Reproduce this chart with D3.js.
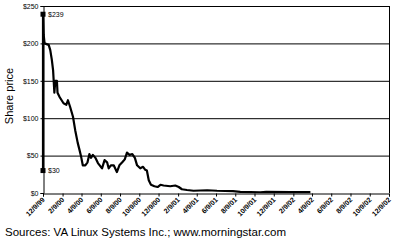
<!DOCTYPE html>
<html><head><meta charset="utf-8">
<script src="https://cdn.jsdelivr.net/npm/d3@7"></script>
<style>
body{margin:0;background:#fff;}
svg{display:block;font-family:"Liberation Sans",Arial,sans-serif;}
</style></head>
<body><svg id="c" width="393" height="242"></svg>
<script>
// Days after IPO (12/9/99) and closing share price ($)
const dayOffsets = [0,0,2,5,18,23,28,32,36,39,44,46,53,65,74,79,86,95,102,110,116,121,126,134,141,147,152,158,166,174,187,195,203,208,215,224,234,242,251,259,266,274,283,291,298,308,317,324,329,335,342,353,363,372,382,403,419,430,440,456,477,520,551,602,625,688,707,783,847];
const prices = [30,239,212,200,198,191,178,164,134,150,150,134,128,120,118,124,115,102,84,67,57,48,37,37,41,52,47,51,47,40,33,44,41,33,37,37,28,37,41,45,54,51,52,47,37,33,35,31,30,17,11,9,8,11,10,9,10,8,5,4,3,3.7,3,2.5,1.5,1,1.5,1.2,1.2];
const markerValues = [239, 30];
const markerLabels = ["$239", "$30"];
const yTicks = [0,50,100,150,200,250];
const xTickLabels = ["12/9/99","2/9/00","4/9/00","6/9/00","8/9/00","10/9/00","12/9/00","2/9/01","4/9/01","6/9/01","8/9/01","10/9/01","12/9/01","2/9/02","4/9/02","6/9/02","8/9/02","10/9/02","12/9/02"];
const yTitle = "Share price";
const sourceText = "Sources: VA Linux Systems Inc.; www.morningstar.com";

const parse = d3.timeParse("%m/%d/%y");
const start = parse("12/9/99");
const end = parse("12/9/02");
const data = dayOffsets.map((d,i)=>({date:d3.timeDay.offset(start,d), v:prices[i]}));
const tickDates = xTickLabels.map(parse);

const svg = d3.select("#c");
const L=43, R=389, T=6, B=193;
const x = d3.scaleTime().domain([start,end]).range([L,R]);
const y = d3.scaleLinear().domain([0,250]).range([B,T]);

// gridlines
svg.append("g").selectAll("line").data(yTicks.filter(d=>d>0)).join("line")
  .attr("x1",L).attr("x2",R).attr("y1",d=>y(d)+0.5).attr("y2",d=>y(d)+0.5)
  .attr("stroke","#000").attr("stroke-width",1);
// right border
svg.append("line").attr("x1",R+0.5).attr("x2",R+0.5).attr("y1",T).attr("y2",B)
  .attr("stroke","#000");

// y axis
const ya = svg.append("g").attr("transform",`translate(${L+0.5},0)`)
  .call(d3.axisLeft(y).tickValues(yTicks).tickSize(3).tickPadding(2).tickFormat(d=>"$"+d));
ya.selectAll("path,line").attr("stroke","#000");
ya.selectAll("text").attr("font-size","7px").attr("fill","#000").attr("font-family","Liberation Sans, Arial, sans-serif");

// x axis
const xa = svg.append("g").attr("transform",`translate(0,${B+0.5})`)
  .call(d3.axisBottom(x).tickValues(tickDates).tickSize(3).tickFormat((d,i)=>xTickLabels[i]));
xa.select(".domain").attr("stroke","#000").attr("stroke-width",1);
xa.selectAll("line").attr("stroke","#000");
xa.selectAll("text").attr("font-size","7px").attr("font-weight","bold").attr("fill","#000").attr("font-family","Liberation Sans, Arial, sans-serif")
  .attr("text-anchor","end").attr("dy","0.35em").attr("y",0)
  .attr("transform","translate(0,5) rotate(-45)");

// price line
svg.append("path").datum(data)
  .attr("d", d3.line().x(d=>x(d.date)).y(d=>y(d.v)))
  .attr("fill","none").attr("stroke","#000").attr("stroke-width",2.2).attr("stroke-linejoin","round");

// markers
svg.append("g").selectAll("rect").data(markerValues).join("rect")
  .attr("x",x(start)-2.5).attr("y",d=>y(d)-2.5).attr("width",5).attr("height",5).attr("fill","#000");
svg.append("g").selectAll("text").data(markerValues).join("text")
  .attr("x",x(start)+5).attr("y",d=>y(d)).attr("dy","0.35em")
  .attr("font-size","7px").text((d,i)=>markerLabels[i]);

// y title
svg.append("text").attr("transform","translate(13,96) rotate(-90)")
  .attr("text-anchor","middle").attr("font-size","11px").text(yTitle);

// source
svg.append("text").attr("x",5).attr("y",236).attr("font-size","11.5px").text(sourceText);
</script></body></html>
